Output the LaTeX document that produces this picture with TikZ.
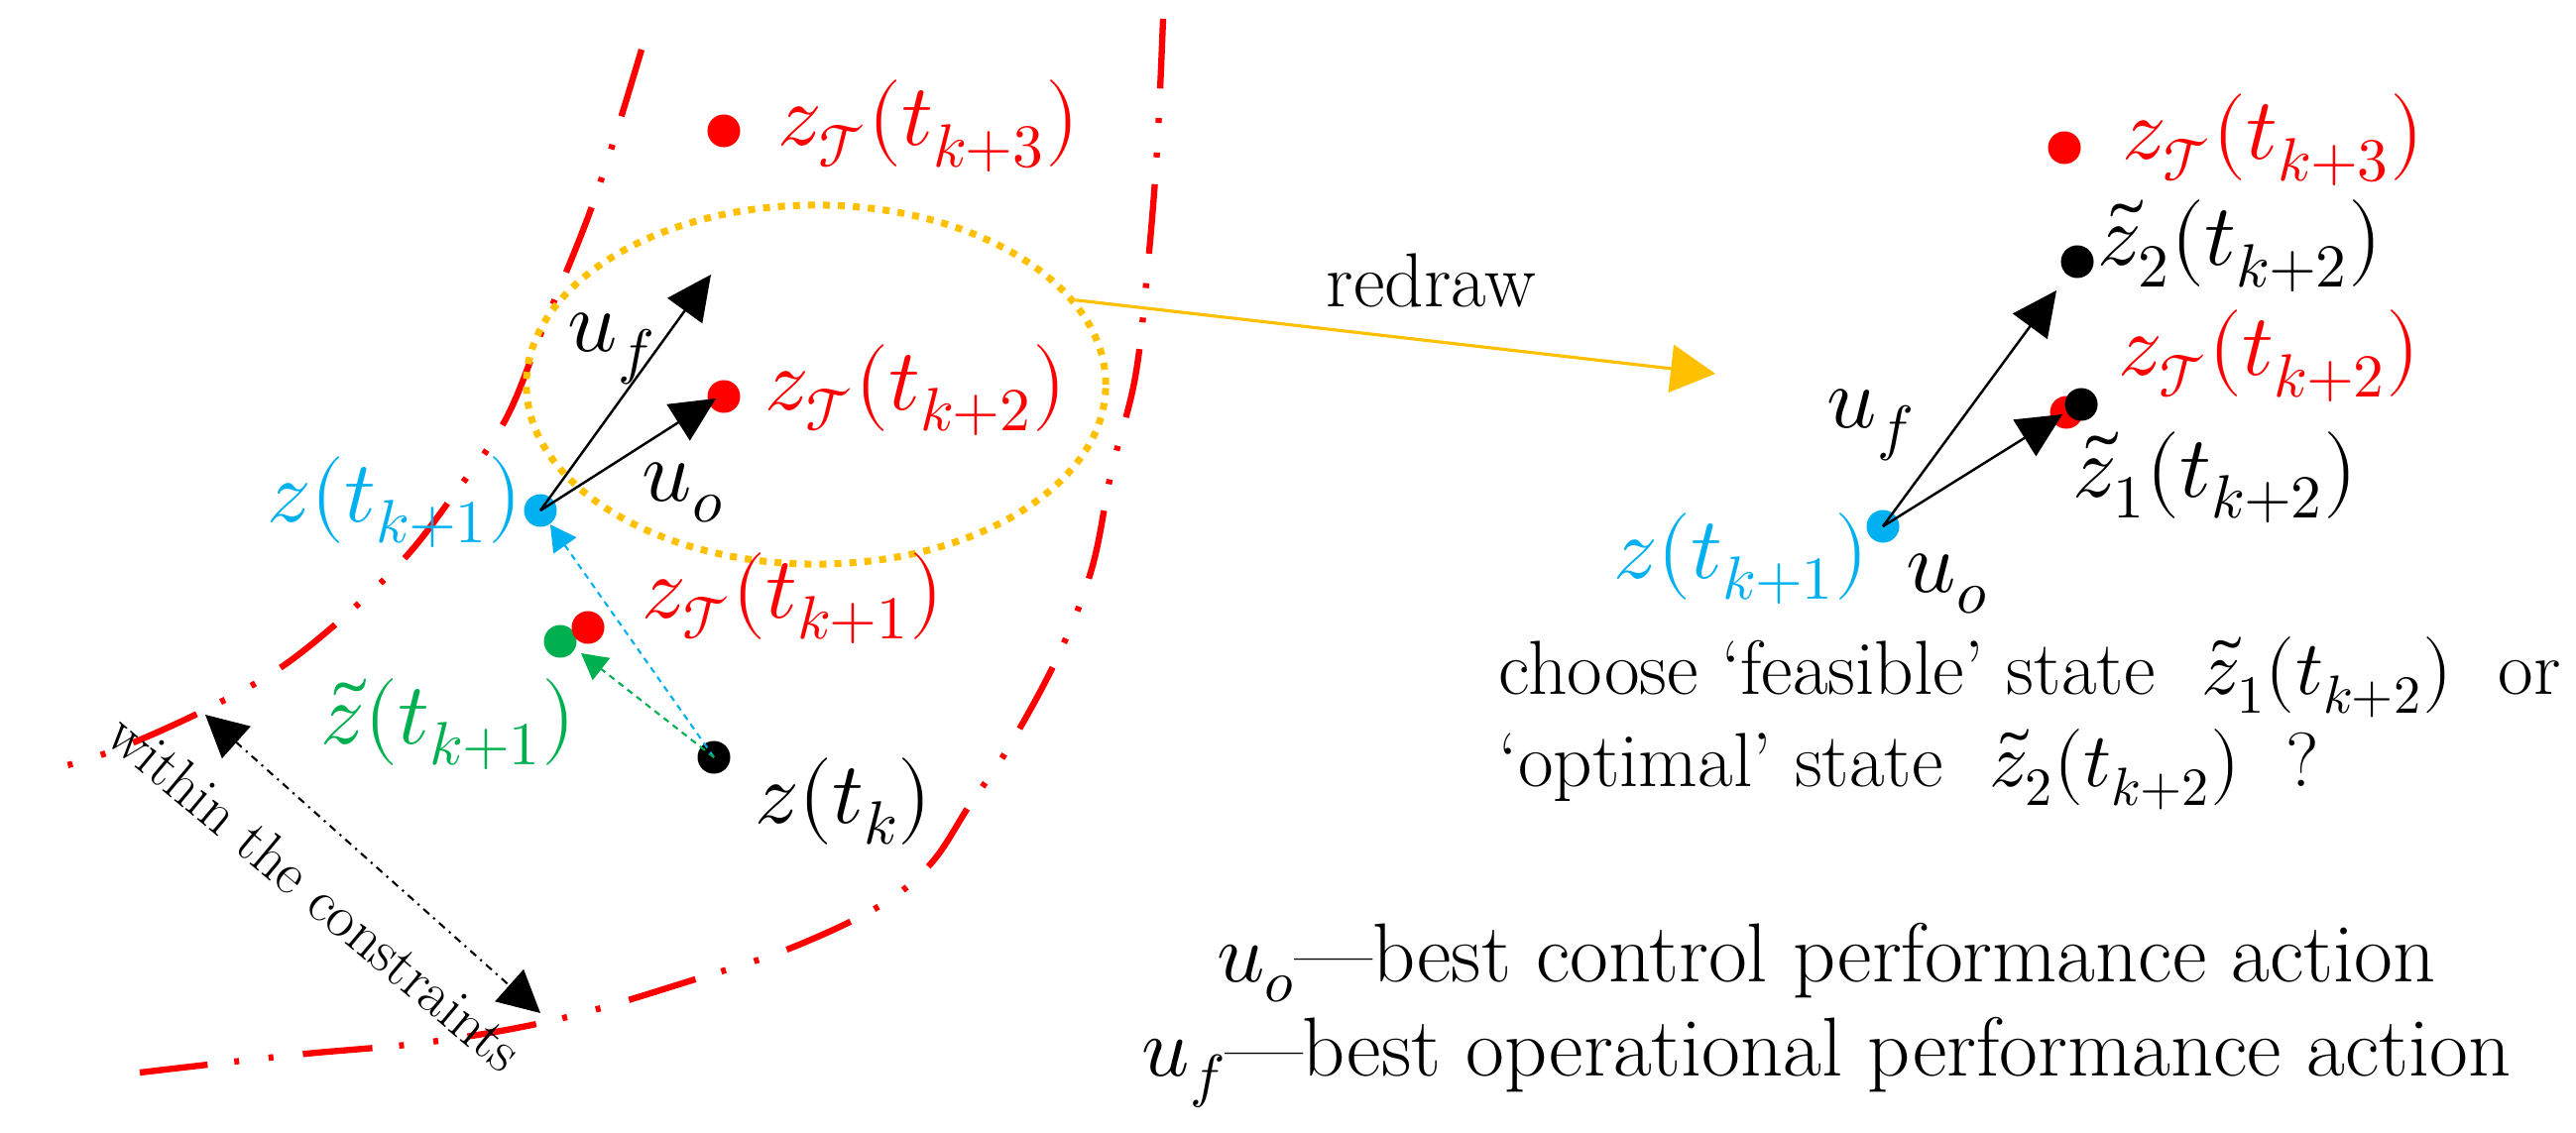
\documentclass[tikz,border=0pt]{standalone}
\usepackage{fontspec}
\usepackage{unicode-math}
\setmathfont{Latin Modern Math}
\usetikzlibrary{arrows.meta,shapes.geometric}
\definecolor{cred}{HTML}{FF0000}
\definecolor{cblue}{HTML}{00B0F0}
\definecolor{cgreen}{HTML}{00B050}
\definecolor{corange}{HTML}{FFC000}
\begin{document}
\begin{tikzpicture}[x=0.01cm,y=-0.01cm,
  lab/.style={inner sep=0pt, anchor=base west, font=\fontsize{22}{27}\selectfont},
  mlab/.style={inner sep=0pt, anchor=base west, font=\fontsize{25}{30}\selectfont},
  blab/.style={inner sep=0pt, anchor=base, font=\fontsize{24}{29}\selectfont},
  dot/.style={circle, inner sep=0pt, minimum size=3.3mm},
  bound/.style={cred, line width=1.8pt, dash pattern=on 20pt off 8.5pt on 1.4pt off 8.5pt on 1.4pt off 7.7pt},
  uarr/.style={black, line width=0.7pt, -{Triangle[length=4.5mm,width=4.3mm]}},
  smallarr/.style={line width=0.6pt, dash pattern=on 1.8pt off 1.5pt, -{Triangle[length=2.6mm,width=2.8mm]}},
  orangedots/.style={draw=corange, line width=2pt, dash pattern=on 2pt off 2.3pt},
]
\useasboundingbox (0,0) rectangle (2598,1143);

% constraint boundaries
\draw[bound] plot[smooth, tension=0.6] coordinates {(647,50) (600,200) (548,330) (510,423) (460,496) (398,574) (299,662) (217,711) (120,755) (50,777)};
\draw[bound] plot[smooth, tension=0.6] coordinates {(1173,19) (1167,150) (1158,264) (1145,380) (1121,475) (1101,574) (1066,664) (1016,756) (978,812) (939,871) (887,914) (796,957) (701,988) (568,1027) (435,1051) (299,1064) (141,1082)};

% dotted ellipse
\node[ellipse, orangedots, minimum width=5.84cm, minimum height=3.62cm, inner sep=0pt] (ell) at (823,388) {};

% left dots
\node[dot, fill=cred] (lt3) at (730,132) {};
\node[dot, fill=cred] (lt2) at (730,400) {};
\node[dot, fill=cblue] (lb) at (545,515) {};
\node[dot, fill=cgreen] (lg) at (565,647) {};
\node[dot, fill=cred] (lt1) at (593,633) {};
\node[dot, fill=black] (lk) at (720,764) {};

% left labels
\node[mlab, text=cred] (llt3) at (784,147) {$z_{\mathcal{T}}(t_{k+3})$};
\node[mlab, text=cred] (llt2) at (771,413) {$z_{\mathcal{T}}(t_{k+2})$};
\node[mlab, text=cblue] (llb) at (269,526) {$z(t_{k+1})$};
\node[mlab, text=cred] (llt1) at (647,623) {$z_{\mathcal{T}}(t_{k+1})$};
\node[mlab, text=cgreen] (llg) at (323,750) {$\tilde{z}(t_{k+1})$};
\node[mlab] (llk) at (761,830) {$z(t_k)$};
\node[mlab] (luf) at (572,354) {$u_f$};
\node[mlab] (luo) at (647,505) {$u_o$};

% left arrows
\coordinate (lufend) at (717,277);
\coordinate (luoend) at (722,402);
\coordinate (lgend) at (586,659);
\draw[uarr] (lb.center) -- (lufend);
\draw[uarr] (lb.center) -- (luoend);
\draw[smallarr, cblue] (lk.center) -- (lb);
\draw[smallarr, cgreen] (lk.center) -- (lgend);

% within the constraints
\node[inner sep=0pt, rotate=-40, font=\fontsize{17}{20}\selectfont] (wc) at (318,900) {within the constraints};
\coordinate (da1) at (207,721);
\coordinate (da2) at (545,1022);
\draw[line width=0.6pt, dash pattern=on 2.2pt off 1.6pt on 0.6pt off 1.6pt,
  {Triangle[length=4.2mm,width=4.3mm]}-{Triangle[length=4.2mm,width=4.3mm]}] (da1) -- (da2);

% redraw arrow
\coordinate (redtip) at (1730,377);
\draw[corange, line width=0.9pt, -{Triangle[length=4.5mm,width=4.8mm]}] (ell.18) -- (redtip);
\node[lab] (redraw) at (1337,310) {redraw};

% right dots
\node[dot, fill=cred] (rt3) at (2082,149) {};
\node[dot, fill=black] (rz2) at (2095,264) {};
\node[dot, fill=cred] (rt2) at (2084,416) {};
\node[dot, fill=black] (rz1) at (2099,408) {};
\node[dot, fill=cblue] (rb) at (1899,531) {};

% right labels
\node[mlab, text=cred] (rlt3) at (2140,161) {$z_{\mathcal{T}}(t_{k+3})$};
\node[mlab] (rlz2) at (2115,268) {$\tilde{z}_2(t_{k+2})$};
\node[mlab, text=cred] (rlt2) at (2136,379) {$z_{\mathcal{T}}(t_{k+2})$};
\node[mlab] (rlz1) at (2090,501) {$\tilde{z}_1(t_{k+2})$};
\node[mlab, text=cblue] (rlb) at (1627,583) {$z(t_{k+1})$};
\node[mlab] (ruf) at (1842,431) {$u_f$};
\node[mlab] (ruo) at (1922,597) {$u_o$};

% right arrows
\coordinate (rufend) at (2074,293);
\coordinate (ruoend) at (2080,418);
\draw[uarr] (rb.center) -- (rufend);
\draw[uarr] (rb.center) -- (ruoend);

% texts
\node[lab] (ch1) at (1511,700) {choose ‘feasible’ state \ $\tilde{z}_1(t_{k+2})$ \ or};
\node[lab] (ch2) at (1511,793) {‘optimal’ state \ $\tilde{z}_2(t_{k+2})$ \ ?};
\node[blab] (lg1) at (1842,990) {$u_o$—best control performance action};
\node[blab] (lg2) at (1842,1085) {$u_f$—best operational performance action};
\end{tikzpicture}
\end{document}
